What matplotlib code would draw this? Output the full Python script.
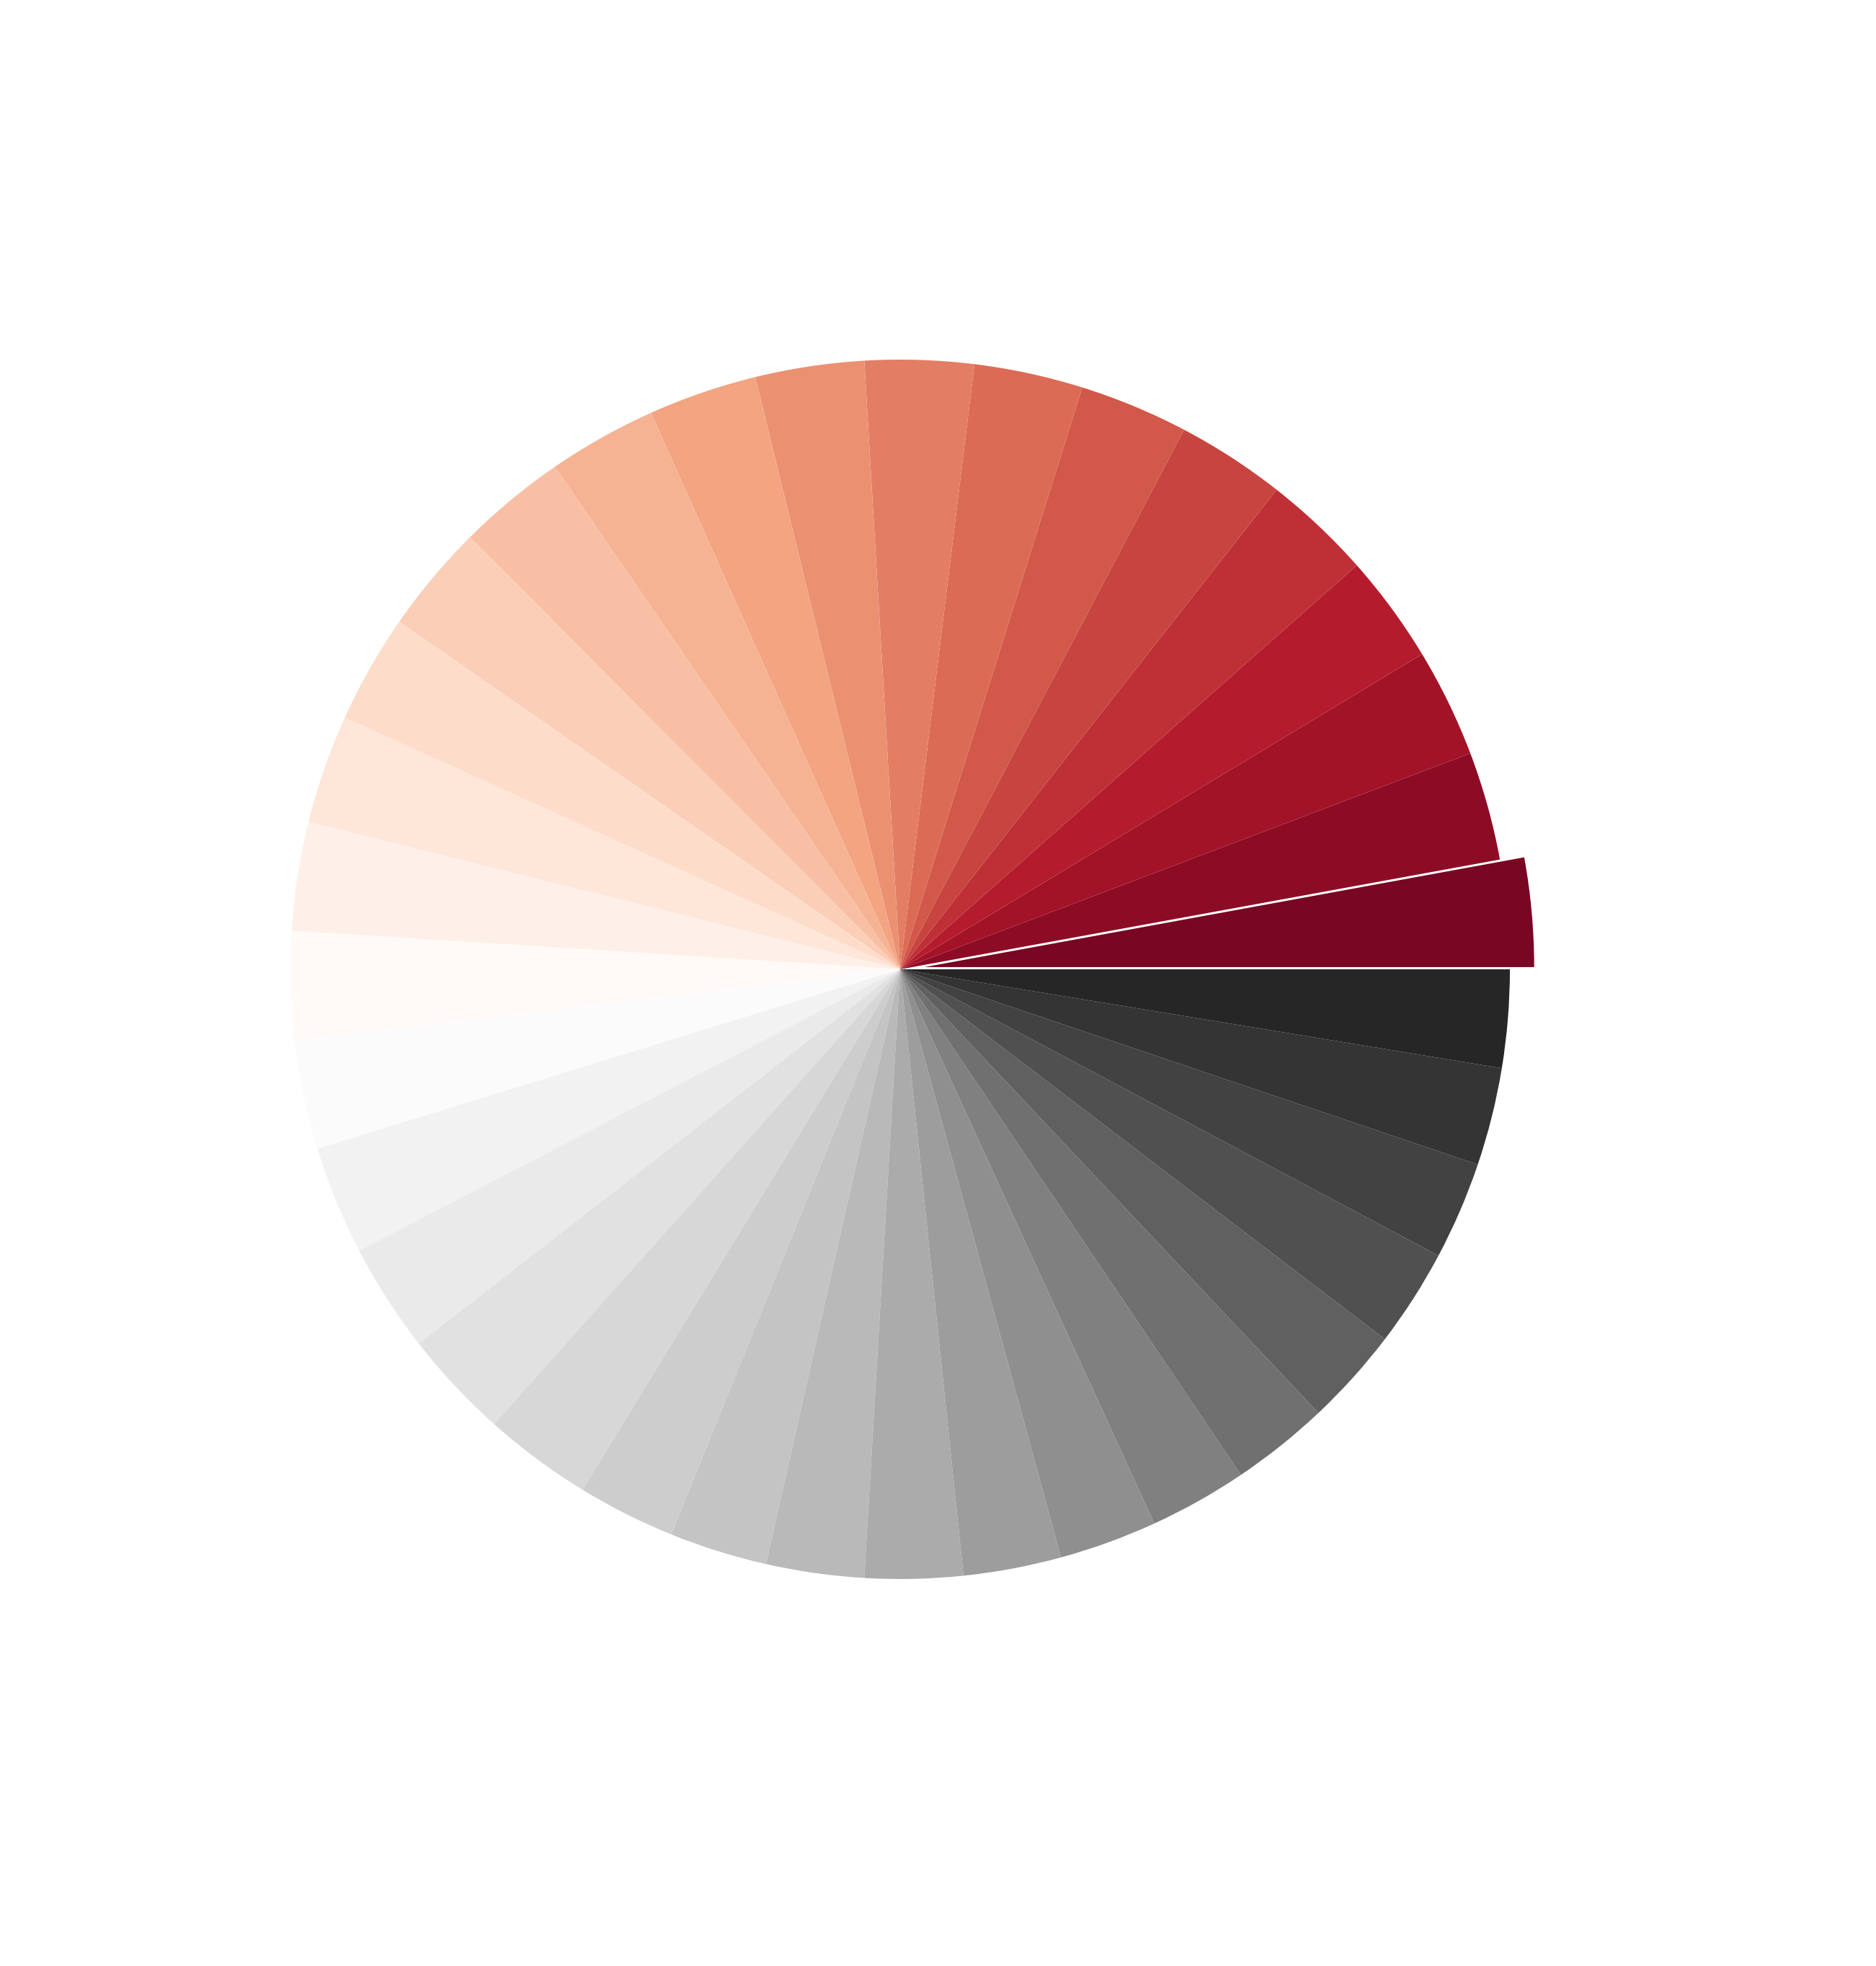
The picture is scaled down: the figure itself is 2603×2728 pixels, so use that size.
import matplotlib
matplotlib.use('Agg')
import matplotlib.pyplot as plt
import numpy as np

# slice sizes, counter-clockwise from 0 degrees
values = [10, 10, 10, 10, 10, 10, 10, 10, 10, 10, 10, 10,
          10, 10, 10, 10, 10, 10, 10, 10, 10, 10, 10,
          9, 9, 9, 9, 9, 9, 9, 9, 9, 9, 9, 9, 9]
explode = [0.04] + [0] * (len(values) - 1)

# seaborn-style sampling of RdGy (endpoints dropped)
colors = plt.get_cmap('RdGy')(np.linspace(0, 1, len(values) + 2)[1:-1])

W, H, DPI = 2603, 2728, 200
fig = plt.figure(figsize=(W / DPI, H / DPI), dpi=DPI)
fig.patch.set_facecolor('white')

r_px = 846
cx, cy = 1249, H - 1345
side = 2.5 * r_px
ax = fig.add_axes([(cx - side / 2) / W, (cy - side / 2) / H, side / W, side / H])

ax.pie(values, colors=colors, explode=explode, startangle=0, counterclock=True)
ax.set_xlim(-1.25, 1.25)
ax.set_ylim(-1.25, 1.25)
ax.set_aspect('equal')
ax.axis('off')

fig.savefig('out.png', dpi=DPI, facecolor='white')
plt.close(fig)
